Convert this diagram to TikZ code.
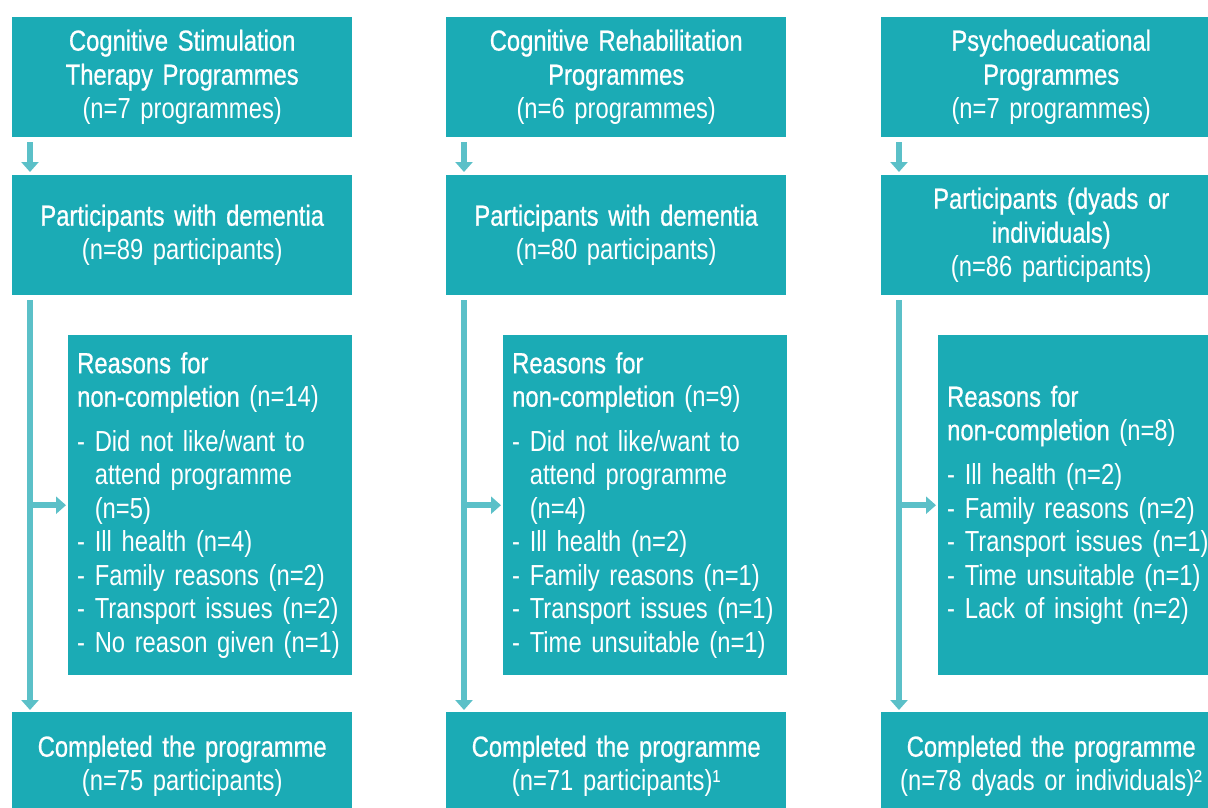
\documentclass[tikz,border=0pt]{standalone}
\usepackage{fontspec}
\setmainfont[FakeStretch=0.82, WordSpace=0.75]{Liberation Sans}
\newfontfamily\headfont[FakeStretch=0.82, WordSpace=0.75, FakeBold=0.7]{Liberation Sans}
\usetikzlibrary{arrows.meta}
\definecolor{boxteal}{RGB}{27,171,181}
\definecolor{arrowteal}{RGB}{91,192,200}

\tikzset{
  stagebox/.style={fill=boxteal, text=white, anchor=north west, inner xsep=5pt, inner ysep=0pt,
    text width=330pt, align=center, minimum height=120pt, font=\fontsize{29}{34}\selectfont},
  reasonbox/.style={fill=boxteal, text=white, anchor=north west, inner xsep=9pt, inner ysep=0pt,
    text width=266pt, align=left, minimum height=340pt, font=\fontsize{29}{33.5}\selectfont},
  flow/.style={arrowteal, line width=6pt, -{Triangle[width=17pt,length=10pt]}},
}
\newcommand{\indentline}{\phantom{- }}
\newcommand{\hd}[1]{{\headfont #1}}

\begin{document}
\begin{tikzpicture}[x=1pt,y=-1pt]
\useasboundingbox (0,0) rectangle (1208,808);
\clip (0,0) rectangle (1208,808);

% top row
\node[stagebox] (t1) at (12,17) {\hd{Cognitive Stimulation}\\\hd{Therapy Programmes}\\(n=7 programmes)};
\node[stagebox] (t2) at (446,17) {\hd{Cognitive Rehabilitation}\\\hd{Programmes}\\(n=6 programmes)};
\node[stagebox] (t3) at (881,17) {\hd{Psychoeducational}\\\hd{Programmes}\\(n=7 programmes)};

% participants
\node[stagebox] (p1) at (12,175) {\hd{Participants with dementia}\\(n=89 participants)};
\node[stagebox] (p2) at (446,175) {\hd{Participants with dementia}\\(n=80 participants)};
\node[stagebox] (p3) at (881,175) {\hd{Participants (dyads or}\\\hd{individuals)}\\(n=86 participants)};

% reasons for non-completion
\node[reasonbox] (r1) at (68,335) {\hd{Reasons for}\\\hd{non-completion} (n=14)\\[11pt]
  - Did not like/want to\\\indentline attend programme\\\indentline (n=5)\\
  - Ill health (n=4)\\- Family reasons (n=2)\\- Transport issues (n=2)\\- No reason given (n=1)};
\node[reasonbox] (r2) at (503,335) {\hd{Reasons for}\\\hd{non-completion} (n=9)\\[11pt]
  - Did not like/want to\\\indentline attend programme\\\indentline (n=4)\\
  - Ill health (n=2)\\- Family reasons (n=1)\\- Transport issues (n=1)\\- Time unsuitable (n=1)};
\node[reasonbox] (r3) at (938,335) {\hd{Reasons for}\\\hd{non-completion} (n=8)\\[11pt]
  - Ill health (n=2)\\- Family reasons (n=2)\\- Transport issues (n=1)\\- Time unsuitable (n=1)\\- Lack of insight (n=2)};

% completed
\node[stagebox, minimum height=108pt] (c1) at (12,712) {\hd{Completed the programme}\\(n=75 participants)};
\node[stagebox, minimum height=108pt] (c2) at (446,712) {\hd{Completed the programme}\\(n=71 participants)¹};
\node[stagebox, minimum height=108pt] (c3) at (881,712) {\hd{Completed the programme}\\(n=78 dyads or individuals)²};

% arrows
\foreach \i in {1,2,3} {
  \draw[flow] ([xshift=18pt,yshift=-5pt]t\i.south west) -- ([xshift=18pt,yshift=3pt]p\i.north west);
  \draw[flow] ([xshift=18pt,yshift=-5pt]p\i.south west) coordinate (l\i) -- ([xshift=18pt,yshift=2pt]c\i.north west);
  \draw[flow] (l\i |- r\i.west) -- ([xshift=-2pt]r\i.west);
}
\end{tikzpicture}
\end{document}
